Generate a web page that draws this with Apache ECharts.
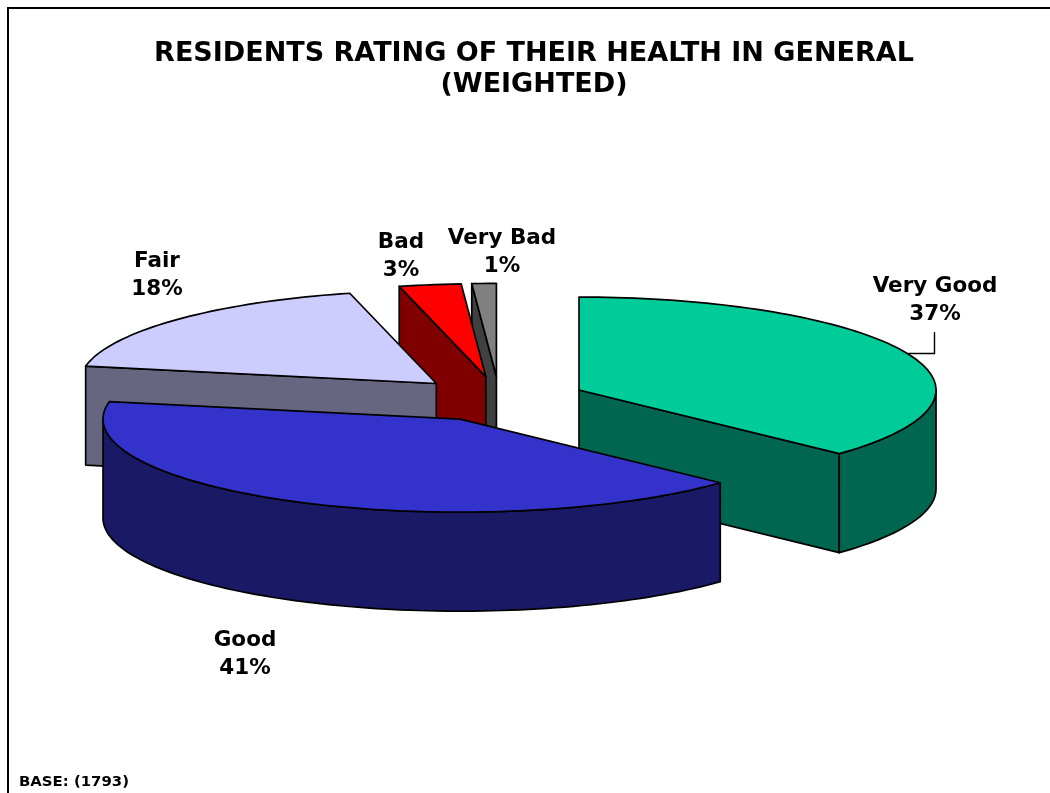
<!DOCTYPE html>
<html>
<head>
<meta charset="utf-8">
<style>html,body{margin:0;padding:0;background:#fff}#c{width:1050px;height:793px}</style>
<script src="https://cdn.jsdelivr.net/npm/echarts@6/dist/echarts.min.js"></script>
</head>
<body>
<div id="c"></div>
<script>
var categories = ['Very Good', 'Good', 'Fair', 'Bad', 'Very Bad'];
var percents = [37, 41, 18.1, 2.8, 1.1];
var topColors = ['#00CC99', '#3333CC', '#CCCCFF', '#FF0000', '#808080'];
var sideColors = ['#006650', '#191966', '#666680', '#800000', '#404040'];
var labelCentres = [[935, 300.5], [245, 654.5], [157, 275], [401, 256.5], [502, 252.5]];
var titleText = 'RESIDENTS RATING OF THEIR HEALTH IN GENERAL\n(WEIGHTED)';
var baseText = 'BASE: (1793)';

var W = 1050, H = 793;
var CX = 499.4, CY = 399, RX = 357, RY = 93, DEPTH = 99, EXPLODE = 0.243;
var FONT = '"DejaVu Sans", Verdana, sans-serif';
var rad = Math.PI / 180;

var total = percents.reduce(function (a, b) { return a + b; }, 0);
var cum = 0;
var slices = percents.map(function (v, i) {
  var start = cum / total * 360;
  cum += v;
  var end = cum / total * 360;
  var mid = (start + end) / 2 * rad;
  return {
    index: i, start: start, end: end,
    ox: EXPLODE * Math.sin(mid),
    oy: EXPLODE * Math.cos(mid)
  };
});
// back-to-front painter's order
var order = slices.slice().sort(function (a, b) { return b.oy - a.oy; })
  .map(function (s) { return s.index; });

function renderSlice(params, api) {
  var s = slices[api.value(0)];
  var i = s.index;
  var h = DEPTH / RY;
  function pt(deg, r, drop) {
    return api.coord([s.ox + r * Math.sin(deg * rad), s.oy + r * Math.cos(deg * rad) - (drop ? h : 0)]);
  }
  function arc(a, b, drop) {
    var out = [], n = Math.max(2, Math.ceil((b - a) / 1.5));
    for (var k = 0; k <= n; k++) out.push(pt(a + (b - a) * k / n, 1, drop));
    return out;
  }
  var style = function (fill) {
    return { fill: fill, stroke: '#000', lineWidth: 1.7, lineJoin: 'round' };
  };
  var children = [];
  function face(deg) {
    children.push({ type: 'polygon', silent: true,
      shape: { points: [pt(deg, 0, false), pt(deg, 1, false), pt(deg, 1, true), pt(deg, 0, true)] },
      style: style(sideColors[i]) });
  }
  if (Math.sin(s.start * rad) < -1e-6) face(s.start);
  if (Math.sin(s.end * rad) > 1e-6) face(s.end);
  var a0 = Math.max(s.start, 90), a1 = Math.min(s.end, 270);
  if (a1 > a0) {
    children.push({ type: 'polygon', silent: true,
      shape: { points: arc(a0, a1, false).concat(arc(a0, a1, true).reverse()) },
      style: style(sideColors[i]) });
  }
  children.push({ type: 'polygon', silent: true,
    shape: { points: [pt(0, 0, false)].concat(arc(s.start, s.end, false)) },
    style: style(topColors[i]) });
  return { type: 'group', children: children };
}

var labelGraphics = categories.map(function (name, i) {
  return { type: 'text', x: labelCentres[i][0], y: labelCentres[i][1], silent: true,
    style: { text: name + '\n' + Math.round(percents[i]) + '%', font: 'bold 21.5px ' + FONT, fill: '#000',
      align: 'center', verticalAlign: 'middle', lineHeight: 28 } };
});

var chart = echarts.init(document.getElementById('c'), null, { renderer: 'canvas' });
chart.setOption({
  animation: false,
  backgroundColor: '#fff',
  grid: { left: 0, top: 0, width: W, height: H, show: false },
  xAxis: { type: 'value', show: false, min: -CX / RX, max: (W - CX) / RX },
  yAxis: { type: 'value', show: false, min: -(H - CY) / RY, max: CY / RY },
  series: [{
    type: 'custom', coordinateSystem: 'cartesian2d', clip: false, silent: true,
    renderItem: renderSlice,
    encode: { x: 0 },
    data: order.map(function (i) { return [i]; })
  }],
  graphic: [
    { type: 'polyline', silent: true, shape: { points: [[8, H], [8, 8], [W, 8]] },
      style: { stroke: '#000', lineWidth: 2, fill: null } },
    { type: 'polyline', silent: true, z: 10, shape: { points: [[934.5, 332], [934.5, 353.5], [908, 353.5]] },
      style: { stroke: '#000', lineWidth: 1.4, fill: null } },
    { type: 'text', x: 534, y: 69, silent: true,
      style: { text: titleText, font: 'bold 27px ' + FONT, fill: '#000', align: 'center',
        verticalAlign: 'middle', lineHeight: 31 } },
    { type: 'text', x: 19, y: 782, silent: true,
      style: { text: baseText, font: 'bold 14.9px ' + FONT, fill: '#000', align: 'left', verticalAlign: 'middle' } }
  ].concat(labelGraphics)
});
</script>
</body>
</html>
